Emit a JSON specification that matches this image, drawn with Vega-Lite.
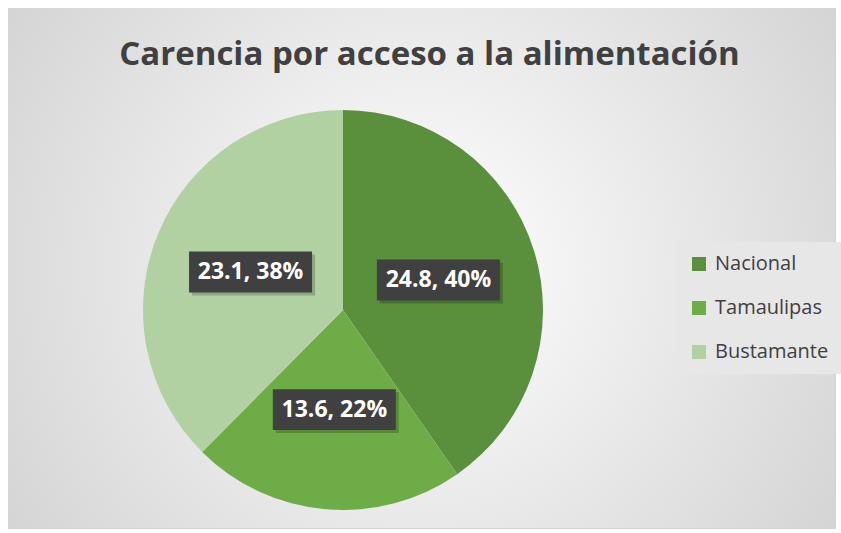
{
  "$schema": "https://vega.github.io/schema/vega-lite/v6.json",
  "width": 827,
  "height": 520,
  "autosize": {"type": "none"},
  "padding": {"left": 8, "top": 8, "right": 6, "bottom": 5},
  "background": "#ffffff",
  "title": {
    "text": "Carencia por acceso a la alimentación",
    "font": "Open Sans",
    "fontSize": 33,
    "fontWeight": "bold",
    "color": "#404040",
    "anchor": "middle",
    "dx": 8,
    "baseline": "alphabetic",
    "offset": -90
  },
  "data": {
    "values": [
      {"categoria": "Nacional", "valor": 24.8, "etiqueta": "24.8, 40%"},
      {"categoria": "Tamaulipas", "valor": 13.6, "etiqueta": "13.6, 22%"},
      {"categoria": "Bustamante", "valor": 23.1, "etiqueta": "23.1, 38%"}
    ]
  },
  "transform": [{"window": [{"op": "row_number", "as": "orden"}]}],
  "layer": [
    {
      "data": {"values": [{}]},
      "mark": {
        "type": "rect",
        "color": {
          "gradient": "radial",
          "x1": 0.5, "y1": 0.5, "r1": 0,
          "x2": 0.5, "y2": 0.5, "r2": 0.75,
          "stops": [
            {"offset": 0, "color": "#ffffff"},
            {"offset": 1, "color": "#c9c9c9"}
          ]
        }
      }
    },
    {
      "mark": {"type": "arc", "outerRadius": 200},
      "encoding": {
        "x": {"datum": 0, "type": "quantitative", "scale": {"domain": [-335, 492], "nice": false, "zero": false}, "axis": null},
        "y": {"datum": 0, "type": "quantitative", "scale": {"domain": [-218, 302], "nice": false, "zero": false}, "axis": null},
        "theta": {"field": "valor", "type": "quantitative", "stack": true},
        "order": {"field": "orden", "type": "quantitative", "sort": "ascending"},
        "color": {
          "field": "categoria",
          "type": "nominal",
          "sort": ["Nacional", "Tamaulipas", "Bustamante"],
          "scale": {
            "domain": ["Nacional", "Tamaulipas", "Bustamante"],
            "range": ["#5A8F3C", "#6DAC47", "#B2D1A3"]
          },
          "legend": {
            "orient": "none",
            "legendX": 669,
            "legendY": 234,
            "title": null,
            "labelFont": "Open Sans",
            "labelFontSize": 20,
            "labelColor": "#404040",
            "symbolType": "square",
            "symbolSize": 196,
            "symbolStrokeWidth": 0,
            "rowPadding": 24,
            "padding": 12,
            "fillColor": "#e7e7e7",
            "labelOffset": 6,
            "labelLimit": 200
          }
        }
      }
    },
    {
      "transform": [
        {"joinaggregate": [{"op": "sum", "field": "valor", "as": "total"}]},
        {"window": [{"op": "sum", "field": "valor", "as": "acum"}], "sort": [{"field": "orden", "order": "ascending"}], "frame": [null, 0]},
        {"calculate": "2 * PI * (datum.acum - datum.valor / 2) / datum.total", "as": "angulo"},
        {"calculate": "100 * sin(datum.angulo)", "as": "px"},
        {"calculate": "100 * cos(datum.angulo)", "as": "py"}
      ],
      "encoding": {
        "x": {"field": "px", "type": "quantitative", "scale": {"domain": [-335, 492], "nice": false, "zero": false}, "axis": null},
        "y": {"field": "py", "type": "quantitative", "scale": {"domain": [-218, 302], "nice": false, "zero": false}, "axis": null}
      },
      "layer": [
        {"mark": {"type": "point", "shape": "M-0.951,-0.284H1.049V0.382H-0.951Z", "size": 15129, "filled": true, "color": "#000000", "opacity": 0.2, "strokeWidth": 0}},
        {"mark": {"type": "point", "shape": "M-1,-0.3333H1V0.3333H-1Z", "size": 15129, "filled": true, "color": "#404040", "opacity": 1, "strokeWidth": 0}}
      ]
    },
    {
      "mark": {"type": "text", "radius": 100, "font": "Open Sans", "fontWeight": "bold", "fontSize": 23, "color": "#ffffff", "baseline": "middle", "align": "center"},
      "encoding": {
        "x": {"datum": 0, "type": "quantitative", "scale": {"domain": [-335, 492], "nice": false, "zero": false}, "axis": null},
        "y": {"datum": 0, "type": "quantitative", "scale": {"domain": [-218, 302], "nice": false, "zero": false}, "axis": null},
        "theta": {"field": "valor", "type": "quantitative", "stack": true},
        "order": {"field": "orden", "type": "quantitative", "sort": "ascending"},
        "text": {"field": "etiqueta", "type": "nominal"}
      }
    }
  ],
  "config": {"view": {"stroke": "#d4d4d4", "strokeWidth": 1}}
}
